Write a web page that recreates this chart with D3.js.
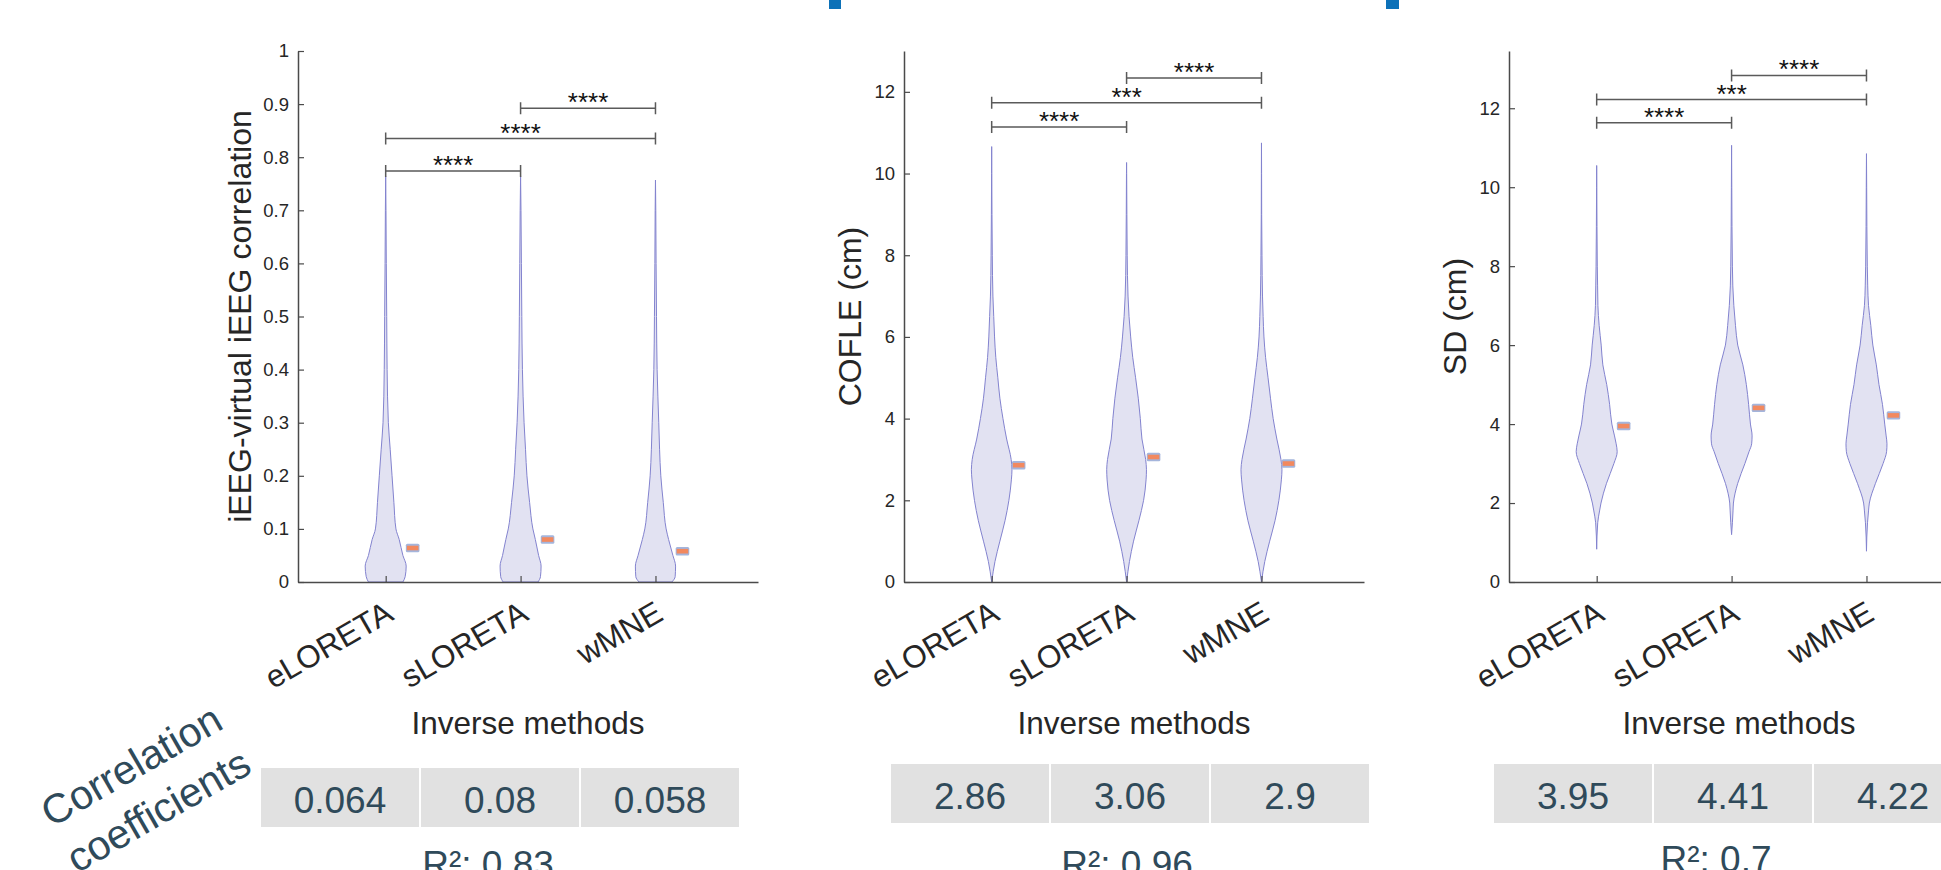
<!DOCTYPE html>
<html>
<head>
<meta charset="UTF-8">
<script src="https://d3js.org/d3.v7.min.js"></script>
<style>
    body { margin: 0; background: #fff; }
    svg text { font-family: "Liberation Sans", Arial, sans-serif; }
</style>
</head>
<body>
<svg id="canvas" width="1941" height="870"></svg>
<script>
    // categories + labels
    var methods = ["eLORETA", "sLORETA", "wMNE"];
    var yLabels = ["iEEG-virtual iEEG correlation", "COFLE (cm)", "SD (cm)"];
    var yMax = [1, 13, 13.45];
    var corrTicks = [0, 0.1, 0.2, 0.3, 0.4, 0.5, 0.6, 0.7, 0.8, 0.9, 1];
    var cmTicks = [0, 2, 4, 6, 8, 10, 12];

    // means (also shown in the tables)
    var corrMeans = [0.064, 0.08, 0.058];
    var cofleMeans = [2.86, 3.06, 2.9];
    var sdMeans = [3.95, 4.41, 4.22];
    var r2Values = [0.83, 0.96, 0.7];

    // violin outlines: value levels and relative half widths (1 = widest)
    var corrLevels = [0, 0.01, 0.03, 0.05, 0.08, 0.1, 0.15, 0.2, 0.25, 0.3, 0.4, 0.5, 0.6, 0.7];
    var corrWidths = [
        [0.84, 0.95, 1.0, 0.84, 0.66, 0.5, 0.4, 0.31, 0.22, 0.13, 0.07, 0.05, 0.03, 0.015],
        [0.85, 0.97, 1.0, 0.88, 0.72, 0.6, 0.44, 0.31, 0.24, 0.17, 0.09, 0.06, 0.04, 0.02],
        [0.8, 0.96, 0.98, 0.85, 0.64, 0.52, 0.38, 0.26, 0.2, 0.16, 0.08, 0.05, 0.03, 0.015]
    ];
    var corrMin = [0, 0, 0];
    var corrMax = [0.764, 0.765, 0.757];

    var cofleLevels = [0, 0.5, 1, 1.5, 2, 2.5, 2.75, 3, 3.5, 4, 4.5, 5, 5.5, 6, 6.5, 7, 8, 9, 10];
    var cofleWidths = [
        [0, 0.16, 0.4, 0.65, 0.84, 0.96, 0.99, 0.95, 0.73, 0.55, 0.4, 0.3, 0.2, 0.14, 0.1, 0.06, 0.03, 0.015, 0.005],
        [0, 0.14, 0.34, 0.6, 0.83, 0.95, 0.97, 0.93, 0.75, 0.67, 0.57, 0.44, 0.3, 0.2, 0.12, 0.07, 0.03, 0.015, 0.005],
        [0, 0.16, 0.4, 0.66, 0.85, 0.97, 1.0, 0.95, 0.75, 0.57, 0.44, 0.32, 0.2, 0.12, 0.08, 0.05, 0.025, 0.01, 0.005]
    ];
    var cofleMin = [0, 0, 0];
    var cofleMax = [10.66, 10.27, 10.75];

    var sdLevels = [1.5, 1.8, 2, 2.5, 3, 3.3, 3.5, 3.7, 4, 4.5, 5, 5.5, 6, 6.5, 7, 7.5, 8, 9, 10];
    var sdWidths = [
        [0.05, 0.14, 0.21, 0.48, 0.84, 1.0, 0.95, 0.87, 0.74, 0.63, 0.49, 0.3, 0.22, 0.12, 0.06, 0.045, 0.03, 0.015, 0.005],
        [0.04, 0.07, 0.09, 0.3, 0.65, 0.85, 0.98, 1.0, 0.92, 0.83, 0.72, 0.55, 0.3, 0.19, 0.11, 0.06, 0.04, 0.02, 0.01],
        [0.05, 0.1, 0.14, 0.44, 0.81, 0.98, 1.0, 0.96, 0.89, 0.78, 0.61, 0.48, 0.31, 0.21, 0.1, 0.06, 0.04, 0.02, 0.01]
    ];
    var sdMin = [0.83, 1.2, 0.78];
    var sdMax = [10.55, 11.06, 10.85];

    // significance brackets
    var sigPairs = [[1, 2], [1, 3], [2, 3]];
    var corrSigHeights = [0.774, 0.835, 0.892];
    var cofleSigHeights = [11.14, 11.73, 12.34];
    var sdSigHeights = [11.63, 12.22, 12.83];
    var corrStars = ["****", "****", "****"];
    var cofleStars = ["****", "***", "****"];
    var sdStars = ["****", "***", "****"];

    var svg = d3.select("#canvas");

    var panels = [
        { left: 298, ticks: corrTicks, levels: corrLevels, widths: corrWidths, min: corrMin, max: corrMax,
          means: corrMeans, sig: corrSigHeights, stars: corrStars, labelOff: 47,
          tableX: 261, tableY: 768, r2x: 488, r2y: 877 },
        { left: 904, ticks: cmTicks, levels: cofleLevels, widths: cofleWidths, min: cofleMin, max: cofleMax,
          means: cofleMeans, sig: cofleSigHeights, stars: cofleStars, labelOff: 43,
          tableX: 891, tableY: 764, r2x: 1127, r2y: 877 },
        { left: 1509, ticks: cmTicks, levels: sdLevels, widths: sdWidths, min: sdMin, max: sdMax,
          means: sdMeans, sig: sdSigHeights, stars: sdStars, labelOff: 43,
          tableX: 1494, tableY: 764, r2x: 1716, r2y: 872 }
    ];

    var plotTop = 51, plotBottom = 582, axisW = 460;

    panels.forEach(function (p, pi) {
        var g = svg.append("g");
        var x = d3.scaleLinear().domain([0.35, 3.76]).range([p.left, p.left + axisW]);
        var y = d3.scaleLinear().domain([0, yMax[pi]]).range([plotBottom, plotTop]);
        var w = d3.scaleLinear().domain([0, 1]).range([0, 20.5]);

        // violins
        methods.forEach(function (m, i) {
            var pts = p.levels.map(function (v, k) { return [v, p.widths[i][k]]; })
                .filter(function (d) { return d[0] >= p.min[i] && d[0] < p.max[i]; });
            if (pts[0][0] > p.min[i]) pts.unshift([p.min[i], 0]);
            pts.push([p.max[i], 0]);
            var cx = x(i + 1);
            var area = d3.area()
                .y(function (d) { return y(d[0]); })
                .x0(function (d) { return cx - w(d[1]); })
                .x1(function (d) { return cx + w(d[1]); })
                .curve(d3.curveMonotoneY);
            g.append("path")
                .attr("d", area(pts))
                .attr("fill", "#e2e2f2")
                .attr("stroke", "#8383cf")
                .attr("stroke-width", 1);

            // mean marker
            var mx = x(i + 1.2);
            g.append("rect")
                .attr("x", mx - 6.8).attr("y", y(p.means[i]) - 4.2)
                .attr("width", 13.6).attr("height", 8.4).attr("rx", 1.5)
                .attr("fill", "#a4b5dc");
            g.append("rect")
                .attr("x", mx - 5.8).attr("y", y(p.means[i]) - 2.3)
                .attr("width", 11.6).attr("height", 4.6)
                .attr("fill", "#f2895f");
        });

        // axes
        var yAxis = g.append("g")
            .attr("transform", "translate(" + p.left + ",0)")
            .call(d3.axisLeft(y).tickValues(p.ticks).tickFormat(d3.format("~g"))
                .tickSize(-6).tickSizeOuter(0).tickPadding(9));
        yAxis.selectAll("text").attr("font-size", "18.5px").attr("fill", "#262626")
            .attr("font-family", "Liberation Sans, Arial, sans-serif");

        var xAxis = g.append("g")
            .attr("transform", "translate(0," + plotBottom + ")")
            .call(d3.axisBottom(x).tickValues([1, 2, 3]).tickFormat(function (d) { return methods[d - 1]; })
                .tickSize(-6).tickSizeOuter(0));
        xAxis.selectAll("text")
            .attr("x", 9).attr("y", 37).attr("dy", 0)
            .attr("text-anchor", "end")
            .attr("transform", "rotate(-30 9 37)")
            .attr("font-size", "31.5px").attr("fill", "#262626")
            .attr("font-family", "Liberation Sans, Arial, sans-serif");

        [yAxis, xAxis].forEach(function (a) {
            a.select(".domain").attr("stroke", "#4a4a4a").attr("stroke-width", 1.5);
            a.selectAll(".tick line").attr("stroke", "#4a4a4a").attr("stroke-width", 1.2);
        });

        g.append("text")
            .attr("transform", "translate(" + (p.left - p.labelOff) + "," + ((plotTop + plotBottom) / 2) + ") rotate(-90)")
            .attr("text-anchor", "middle")
            .attr("font-size", "32px").attr("fill", "#262626")
            .text(yLabels[pi]);

        g.append("text")
            .attr("x", p.left + axisW / 2).attr("y", 734)
            .attr("text-anchor", "middle")
            .attr("font-size", "31.5px").attr("fill", "#262626")
            .text("Inverse methods");

        // significance brackets
        sigPairs.forEach(function (pair, k) {
            var x1 = x(pair[0]), x2 = x(pair[1]), yy = y(p.sig[k]);
            g.append("path")
                .attr("d", "M" + x1 + "," + (yy - 6) + "V" + (yy + 6) + "M" + x1 + "," + yy + "H" + x2 +
                    "M" + x2 + "," + (yy - 6) + "V" + (yy + 6))
                .attr("fill", "none").attr("stroke", "#5a5a5a").attr("stroke-width", 1.5);
            g.append("text")
                .attr("x", (x1 + x2) / 2).attr("y", yy + 3)
                .attr("text-anchor", "middle")
                .attr("font-size", "26px").attr("fill", "#111")
                .text(p.stars[k]);
        });

        // table of means
        var band = d3.scaleBand().domain(methods).range([p.tableX, p.tableX + 478]).paddingInner(0.0127);
        methods.forEach(function (m, i) {
            g.append("rect")
                .attr("x", band(m)).attr("y", p.tableY)
                .attr("width", band.bandwidth()).attr("height", 59)
                .attr("fill", "#e1e1e1");
            g.append("text")
                .attr("x", band(m) + band.bandwidth() / 2).attr("y", p.tableY + 45)
                .attr("text-anchor", "middle")
                .attr("font-size", "37px").attr("fill", "#2f4a5a")
                .text(String(p.means[i]));
        });

        g.append("text")
            .attr("x", p.r2x).attr("y", p.r2y)
            .attr("text-anchor", "middle")
            .attr("font-size", "37px").attr("fill", "#2f4a5a")
            .text("R\u00b2: " + r2Values[pi]);
    });

    // rotated row title
    [["Correlation", 131, 765], ["coefficients", 158, 810]].forEach(function (t) {
        svg.append("text")
            .attr("x", t[1]).attr("y", t[2]).attr("dy", "0.36em")
            .attr("text-anchor", "middle")
            .attr("transform", "rotate(-30 " + t[1] + " " + t[2] + ")")
            .attr("font-size", "41px").attr("fill", "#2f4a5a")
            .text(t[0]);
    });

    // cut-off blue markers at the top edge
    svg.append("rect").attr("x", 829).attr("y", 0).attr("width", 12).attr("height", 9).attr("fill", "#0c71b8");
    svg.append("rect").attr("x", 1386).attr("y", 0).attr("width", 13).attr("height", 9).attr("fill", "#0c71b8");
</script>
</body>
</html>
